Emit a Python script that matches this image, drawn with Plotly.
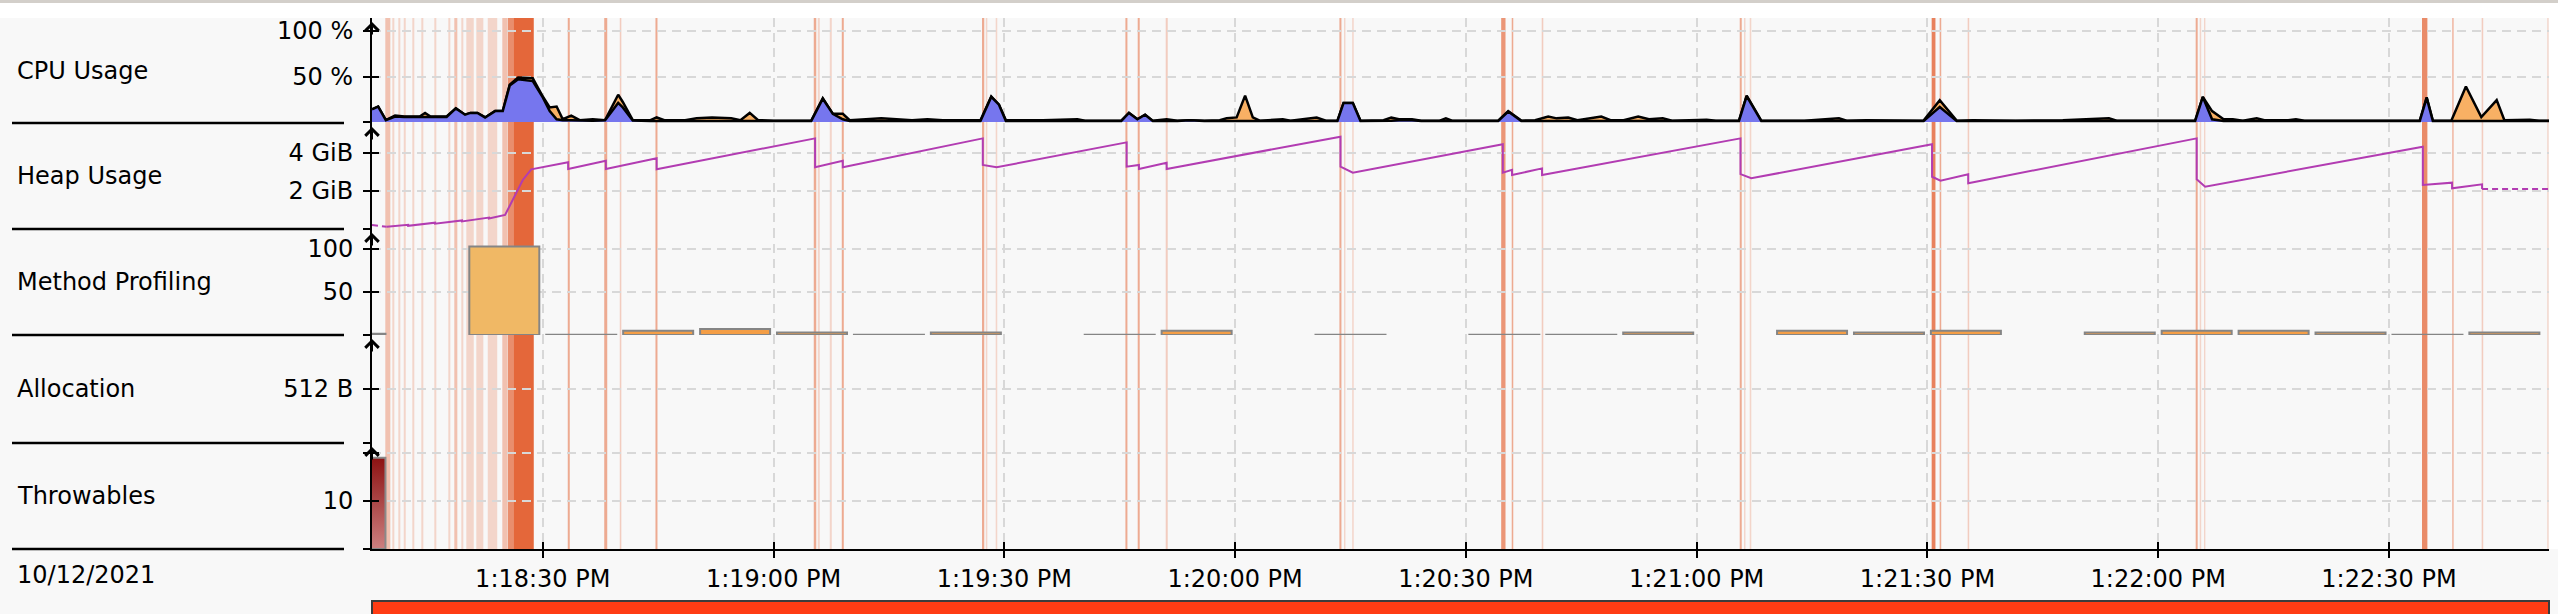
import plotly.graph_objects as go
import pandas as pd

# ---------------- data (seconds after 1:18:00 PM, 10/12/2021) ----------------
BASE = pd.Timestamp("2021-10-12 13:18:00")
view_secs = [7.8, 290.8]

tick_secs = [30, 60, 90, 120, 150, 180, 210, 240, 270]
tick_labels = ["1:18:30 PM", "1:19:00 PM", "1:19:30 PM", "1:20:00 PM", "1:20:30 PM",
               "1:21:00 PM", "1:21:30 PM", "1:22:00 PM", "1:22:30 PM"]
date_label = "10/12/2021"
row_names = ["CPU Usage", "Heap Usage", "Method Profiling", "Allocation", "Throwables"]

cpu_t = [7.8, 8.6, 9.6, 10.8, 12.0, 14.0, 14.7, 15.4, 17.5, 18.7, 19.9, 20.6, 21.5, 22.5, 23.8,
         24.8, 25.7, 26.8, 28.7, 30.0, 30.9, 31.8, 32.6, 33.7, 34.8, 36.5, 38.1, 39.8, 40.4, 41.7,
         44.0, 44.8, 45.8, 48.5, 50.0, 52.0, 54.5, 55.7, 56.9, 58.0, 60.0, 64.9, 66.4, 67.7, 69.0,
         69.9, 72.0, 74.0, 76.0, 78.0, 80.0, 82.0, 86.9, 88.3, 89.3, 90.2, 95.0, 99.5, 100.5, 105.2,
         106.2, 107.3, 108.3, 109.3, 111.1, 112.5, 114.1, 116.0, 118.0, 118.9, 120.2, 121.3, 122.3,
         123.2, 126.2, 127.2, 130.6, 131.8, 133.3, 134.1, 135.3, 136.3, 139.3, 140.3, 141.3, 143.0,
         144.2, 146.6, 147.4, 148.2, 154.2, 155.5, 157.2, 159.0, 160.7, 161.8, 163.3, 164.5, 167.6,
         168.8, 170.5, 172.4, 173.8, 175.6, 176.8, 180.2, 181.3, 182.5, 185.5, 186.5, 188.4, 194.0,
         198.5, 199.5, 202.0, 209.5, 211.6, 213.8, 215.9, 221.5, 227.6, 233.6, 234.6, 244.8, 245.8,
         247.0, 248.5, 249.7, 251.0, 252.8, 253.8, 256.9, 257.9, 259.0, 274.0, 274.9, 275.7, 278.1,
         280.0, 282.0, 284.0, 285.0, 288.3, 289.5, 290.8]
cpu_machine = [14, 17, 2, 7, 6, 6, 10, 6, 6, 15, 8, 10, 10, 5, 12,
               12, 41, 49, 48, 28, 16, 17, 3, 7, 2, 3, 2, 30, 22, 2,
               2, 5, 2, 2, 4, 5, 4, 2, 10, 2, 1.5, 1.5, 26, 9, 9,
               2, 3, 4, 3, 2, 3, 2, 2, 28, 19, 2, 2, 3, 1.5, 1.5,
               10, 3, 8, 1.5, 3, 1.5, 2, 1.5, 2, 4, 5, 29, 5,
               1.5, 3, 1.5, 5, 1.5, 1.5, 21, 21, 1.5, 2, 5, 3, 3,
               1.5, 1.5, 4, 1.5, 1.5, 12, 1.5, 2, 6, 4, 5, 2, 6,
               2, 2, 6, 3, 4, 1.5, 2, 2.5, 1.5, 1.5, 29, 1.5, 1.5,
               4, 1.5, 2, 1.5, 24, 1.5, 2, 1.5, 2, 4, 1.5, 1.5, 27.5,
               12, 3, 3, 1.5, 4, 2, 2, 3, 1.5, 1.5, 27, 1.5, 1.5,
               39, 5.5, 24, 2, 2.5, 1.5, 1.5]
cpu_jvm = [14, 17, 2, 6, 5.5, 5.5, 6, 5.5, 5.5, 15, 8, 10, 10, 5, 12,
           12, 40, 47, 45, 27, 12, 3, 2, 2, 1.5, 1.5, 2, 21, 16, 1.5,
           1, 1, 1, 1, 1, 1, 1, 1, 1, 1, 1, 1, 25.5, 9, 3,
           1, 1, 1, 1, 1, 1, 1, 1, 27.5, 19, 1, 1, 1, 1, 1,
           10, 3, 8, 1, 1, 1, 2, 1, 1, 1, 1, 1, 1,
           1, 1, 1, 1, 1, 1, 21, 21, 1, 1, 1.5, 2, 2,
           1, 1, 1, 1, 1, 11.5, 1, 1, 1, 1, 1, 1, 1,
           1, 1, 1, 1, 1, 1, 1, 1, 1, 1, 28.5, 1, 1,
           1, 1, 1, 1, 16.5, 1, 1, 1, 1.5, 1, 1, 1, 27.5,
           3, 1, 1, 1, 1, 1, 1, 1, 1, 1, 26.5, 1, 1,
           1, 1, 1, 1, 1, 1, 1]

heap_t = [9.7, 12.5, 12.5, 16.0, 16.0, 19.5, 19.5, 23.0, 23.0, 25.1,
          27.4, 28.5, 33.3, 33.3, 38.2, 38.2, 44.8, 44.8, 65.4, 65.4,
          69.0, 69.0, 87.2, 87.2, 89.0, 105.9, 105.9, 107.5, 107.5, 111.1,
          111.1, 133.7, 133.7, 135.3, 154.8, 154.8, 156.0, 156.0, 159.9, 159.9,
          185.7, 185.7, 187.1, 210.6, 210.6, 211.7, 215.3, 215.3, 245.0, 245.0,
          246.1, 274.4, 274.4, 278.2, 278.2, 282.1, 282.1]
heap_gib = [0.12, 0.22, 0.17, 0.33, 0.28, 0.45, 0.40, 0.60, 0.55, 0.74,
            2.58, 3.14, 3.51, 3.16, 3.59, 3.16, 3.72, 3.14, 4.77, 3.25,
            3.59, 3.25, 4.77, 3.37, 3.25, 4.56, 3.28, 3.37, 3.16, 3.49,
            3.16, 4.86, 3.28, 2.96, 4.46, 2.96, 3.11, 2.84, 3.19, 2.84,
            4.77, 2.89, 2.67, 4.46, 2.75, 2.54, 2.88, 2.41, 4.77, 2.62,
            2.23, 4.33, 2.32, 2.44, 2.14, 2.35, 2.10]
heap_est_t = [7.8, 9.7, None, 282.1, 290.8]
heap_est_gib = [0.21, 0.12, None, 2.10, 2.10]

mp_bin_start = [0, 20, 30, 40, 50, 60, 70, 80, 100, 110, 130, 150, 160, 170, 190, 200, 210,
                230, 240, 250, 260, 270, 280]
mp_samples = [1.5, 103, 0, 5, 7, 3, 0, 3, 0, 5, 0, 0, 0, 3, 5, 3, 5,
              3, 5, 5, 3, 0, 3]

thr_bin_start = [0]
thr_count = [19]

gc_start = [9.53, 10.44, 11.22, 11.93, 13.04, 14.21, 15.90, 17.72, 18.50, 19.41, 20.06, 21.36,
            22.85, 24.74, 25.45, 26.17, 33.25, 37.99, 40.01, 44.65, 65.23, 65.75, 67.31, 68.87,
            87.10, 87.59, 88.88, 105.74, 107.34, 110.98, 133.56, 134.16, 135.22, 154.59, 155.96,
            159.86, 185.60, 186.16, 186.90, 210.55, 211.59, 215.23, 244.87, 245.39, 245.95,
            274.29, 278.21, 282.05, 290.56]
gc_dur = [0.65, 0.26, 0.26, 0.26, 0.26, 0.26, 0.26, 0.26, 0.39, 0.26, 0.97, 0.91,
          1.23, 0.65, 0.71, 2.66, 0.26, 0.39, 0.20, 0.26, 0.32, 0.26, 0.26, 0.26,
          0.29, 0.20, 0.20, 0.26, 0.26, 0.26, 0.26, 0.18, 0.20, 0.56, 0.20,
          0.20, 0.26, 0.18, 0.20, 0.49, 0.20, 0.20, 0.26, 0.20, 0.18,
          0.70, 0.20, 0.20, 0.20]
gc_intensity = [0.38, 0.24, 0.24, 0.24, 0.24, 0.24, 0.24, 0.24, 0.38, 0.24, 0.24, 0.24,
                0.24, 0.38, 0.73, 1.0, 0.54, 0.54, 0.30, 0.54, 0.54, 0.24, 0.24, 0.54,
                0.54, 0.24, 0.24, 0.54, 0.54, 0.30, 0.54, 0.24, 0.24, 0.68, 0.54,
                0.30, 0.54, 0.24, 0.24, 0.82, 0.54, 0.30, 0.54, 0.24, 0.24,
                0.75, 0.45, 0.30, 0.22]


def T(secs):
    out = []
    for s in secs:
        if s is None:
            out.append(None)
        else:
            out.append((BASE + pd.Timedelta(seconds=s)).strftime("%Y-%m-%d %H:%M:%S.%f")[:-3])
    return out


# ---------------- geometry ----------------
W, H = 2558, 614
ML, MR, MT, MB = 372, 9, 18, 65
PW, PH = W - ML - MR, H - MT - MB
FONT = "DejaVu Sans"
FS = 24


def px_x(p):
    return (p - ML) / PW


def px_y(p):
    return (H - MB - p) / PH


row_px = [18, 123, 229, 335, 443, 549]
domains = [[px_y(row_px[i + 1]), px_y(row_px[i])] for i in range(5)]

y_ranges = [[-1.1, 114.3], [0, 5.579], [0, 123.3], [0, 1024], [0, 22.08]]
y_tickvals = [[0, 50, 100], [0, 2, 4], [0, 50, 100], [0, 512], [0, 10, 20]]
y_ticktext = [["", "50 %", "100 %"], ["", "2 GiB", "4 GiB"], ["", "50", "100"],
              ["", "512 B"], ["", "10", ""]]

GRID = "#D8D8D8"
GDASH = "9px,6px"

fig = go.Figure()

# CPU usage
fig.add_trace(go.Scatter(x=T(cpu_t), y=cpu_machine, mode="lines", fill="tozeroy",
                         fillcolor="#F8B064", line=dict(color="black", width=2.5),
                         xaxis="x", yaxis="y", hoverinfo="skip"))
fig.add_trace(go.Scatter(x=T(cpu_t), y=cpu_jvm, mode="lines", fill="tozeroy",
                         fillcolor="#7676EE", line=dict(color="black", width=2.5),
                         xaxis="x", yaxis="y", hoverinfo="skip"))

# Heap usage
fig.add_trace(go.Scatter(x=T(heap_t), y=heap_gib, mode="lines",
                         line=dict(color="#B23CB2", width=2), xaxis="x", yaxis="y2",
                         hoverinfo="skip"))
fig.add_trace(go.Scatter(x=T(heap_est_t), y=heap_est_gib, mode="lines", connectgaps=False,
                         line=dict(color="#B23CB2", width=2, dash="6px,4px"), xaxis="x", yaxis="y2",
                         hoverinfo="skip"))

# Method profiling (10 s bins)
mp_centers = [s + 5 for s in mp_bin_start]
mp_heights = [max(v, 0.4) for v in mp_samples]
mp_colors = ["#F0B865" if v > 50 else "#F49E46" for v in mp_samples]
fig.add_trace(go.Bar(x=T(mp_centers), y=mp_heights, width=[9100] * len(mp_centers),
                     marker=dict(color=mp_colors, line=dict(color="#858585", width=2)),
                     xaxis="x", yaxis="y3", hoverinfo="skip"))

# Allocation (empty row)
fig.add_trace(go.Scatter(x=T([100]), y=[-100], mode="lines", xaxis="x", yaxis="y4",
                         hoverinfo="skip"))

# Throwables (gradient bar)
for s, c in zip(thr_bin_start, thr_count):
    x0, x1 = s + 0.45, s + 9.55
    fig.add_trace(go.Scatter(x=T([x0, x0, x1, x1, x0]), y=[0, c, c, 0, 0], mode="lines",
                             fill="toself",
                             fillgradient=dict(type="vertical",
                                               colorscale=[[0, "#CD8080"], [1, "#8C1212"]]),
                             line=dict(color="#8A8A8A", width=2), xaxis="x", yaxis="y5",
                             hoverinfo="skip"))

# dummy traces for crossing-tick overlay axes
for i in range(5):
    fig.add_trace(go.Scatter(x=T([100]), y=[-1e6], mode="lines", xaxis="x",
                             yaxis="y%d" % (i + 6), hoverinfo="skip"))
fig.add_trace(go.Scatter(x=T([100]), y=[-100], mode="lines", xaxis="x2", yaxis="y5",
                         hoverinfo="skip"))

layout = dict(
    width=W, height=H,
    margin=dict(l=ML, r=MR, t=MT, b=MB, pad=0),
    paper_bgcolor="#F8F8F8", plot_bgcolor="rgba(0,0,0,0)",
    showlegend=False, hovermode=False,
    font=dict(family=FONT, size=FS, color="black"),
    xaxis=dict(domain=[0, 1], anchor="y5", type="date", range=T(view_secs),
               tickmode="array", tickvals=T(tick_secs), ticktext=tick_labels,
               ticks="outside", ticklen=7, tickwidth=2, tickcolor="black",
               showline=True, linecolor="black", linewidth=2,
               showgrid=True, gridcolor=GRID, griddash=GDASH, gridwidth=2,
               zeroline=False, tickfont=dict(family=FONT, size=FS, color="black"),
               fixedrange=True),
    xaxis2=dict(overlaying="x", anchor="y5", type="date", range=T(view_secs),
                tickmode="array", tickvals=T(tick_secs), ticks="inside", ticklen=7,
                tickwidth=2, tickcolor="black", showticklabels=False, showgrid=False,
                showline=False, zeroline=False),
)

for i in range(5):
    key = "yaxis" if i == 0 else "yaxis%d" % (i + 1)
    layout[key] = dict(domain=domains[i], anchor="x", range=y_ranges[i],
                       tickmode="array", tickvals=y_tickvals[i], ticktext=y_ticktext[i],
                       ticks="outside", ticklen=7, tickwidth=2, tickcolor="black",
                       showline=True, linecolor="black", linewidth=2,
                       showgrid=True, gridcolor=GRID, griddash=GDASH, gridwidth=2,
                       zeroline=False, ticklabelstandoff=5,
                       tickfont=dict(family=FONT, size=FS, color="black"), fixedrange=True)
    layout["yaxis%d" % (i + 6)] = dict(overlaying="y" if i == 0 else "y%d" % (i + 1),
                                       anchor="x", range=y_ranges[i], tickmode="array",
                                       tickvals=y_tickvals[i], ticks="inside", ticklen=7,
                                       tickwidth=2, tickcolor="black", showticklabels=False,
                                       showgrid=False, showline=False, zeroline=False)

shapes = []
# white band above the plot, thin gray border on top, white strip to the right
shapes.append(dict(type="rect", xref="paper", yref="paper", x0=px_x(0), x1=px_x(W),
                   y0=px_y(18), y1=px_y(0), fillcolor="white", line=dict(width=0), layer="below"))
shapes.append(dict(type="rect", xref="paper", yref="paper", x0=px_x(W - MR), x1=px_x(W),
                   y0=px_y(549), y1=px_y(0), fillcolor="white", line=dict(width=0), layer="below"))
shapes.append(dict(type="rect", xref="paper", yref="paper", x0=px_x(0), x1=px_x(W),
                   y0=px_y(3), y1=px_y(0), fillcolor="#D3CFCA", line=dict(width=0), layer="below"))
# GC / pause events
for s, d, a in zip(gc_start, gc_dur, gc_intensity):
    shapes.append(dict(type="rect", xref="x", yref="paper", x0=T([s])[0], x1=T([s + d])[0],
                       y0=0, y1=1, fillcolor="rgba(228,103,58,%.2f)" % a,
                       line=dict(width=0), layer="below"))
# left panel separators
for b in row_px[1:]:
    shapes.append(dict(type="line", xref="paper", yref="paper", x0=px_x(12), x1=px_x(344),
                       y0=px_y(b), y1=px_y(b), line=dict(color="black", width=2.5)))
# range navigator bar
shapes.append(dict(type="rect", xref="paper", yref="paper", x0=0, x1=1,
                   y0=px_y(616), y1=px_y(601), fillcolor="#FF3C14",
                   line=dict(color="#3C3C3C", width=2)))
layout["shapes"] = shapes

ann = []
for i, name in enumerate(row_names):
    ann.append(dict(text=name, xref="paper", yref="paper", x=px_x(15), xanchor="left",
                    y=(domains[i][0] + domains[i][1]) / 2, yanchor="middle", showarrow=False,
                    font=dict(family=FONT, size=FS, color="black")))
ann.append(dict(text=date_label, xref="paper", yref="paper", x=px_x(15), xanchor="left",
                y=px_y(575), yanchor="middle", showarrow=False,
                font=dict(family=FONT, size=FS, color="black")))
for i in range(5):
    tip = row_px[i] + 4
    ann.append(dict(text="", xref="paper", yref="paper", x=0, y=px_y(tip), ax=0, ay=14,
                    showarrow=True, arrowhead=4, arrowsize=1.3, arrowwidth=2,
                    arrowcolor="black"))
layout["annotations"] = ann

fig.update_layout(**layout)
fig.write_html("out.html", config={"displayModeBar": False, "staticPlot": True},
               post_script="document.body.style.margin='0';document.body.style.overflow='hidden';")
